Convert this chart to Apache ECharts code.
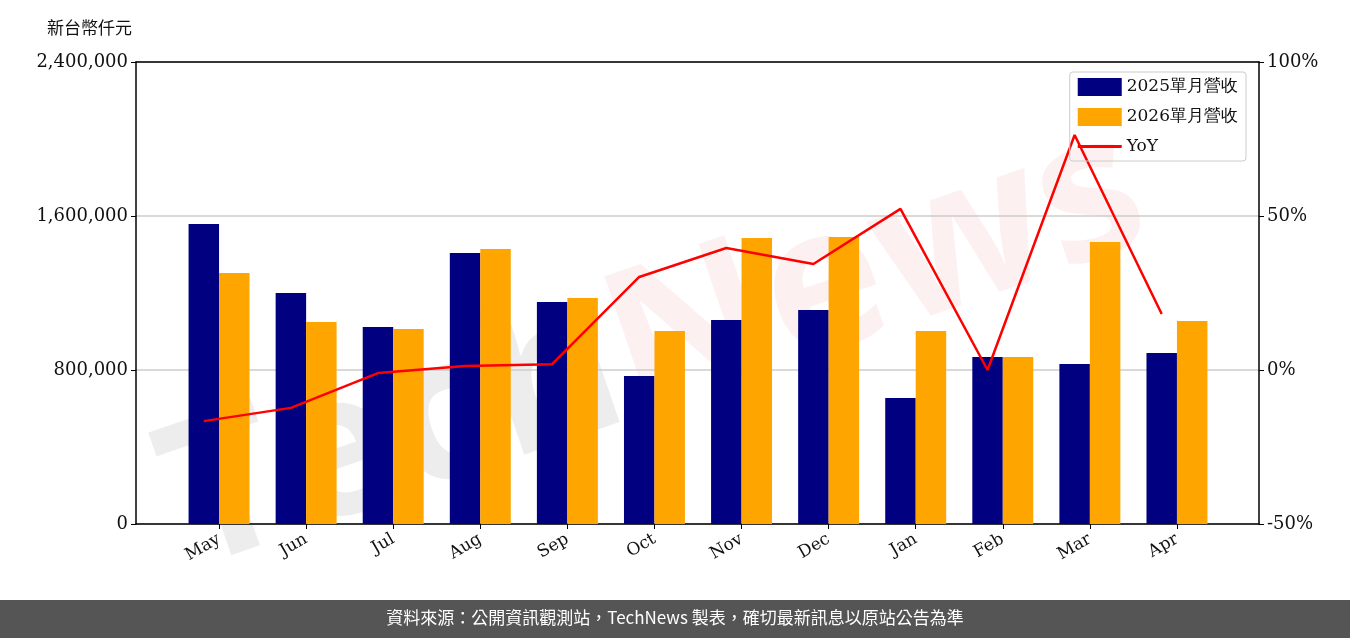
<!DOCTYPE html>
<html><head><meta charset="utf-8">
<script src="https://cdn.jsdelivr.net/npm/echarts@6/dist/echarts.min.js"></script>
<style>html,body{margin:0;padding:0;background:#fff}#c{width:1350px;height:638px}</style>
</head><body><div id="c"></div>
<script>
const months = ["May","Jun","Jul","Aug","Sep","Oct","Nov","Dec","Jan","Feb","Mar","Apr"];
const rev2025 = [1558000,1200000,1023000,1408000,1153000,769000,1060000,1112000,654000,867000,831000,888000];
const rev2026 = [1304000,1049000,1013000,1428000,1174000,1002000,1486000,1491000,1002000,867000,1465000,1054000];
const yoy = [-16.6,-12.3,-1.0,1.3,1.9,30.2,39.6,34.4,52.3,0.0,76.3,18.2];

const font = "DejaVu Serif";
const black = { color: "#000", width: 1.5 };
const chart = echarts.init(document.getElementById("c"));
chart.setOption({
  animation: false,
  textStyle: { fontFamily: font },
  grid: [
    { left: 136, right: 91, top: 62, bottom: 114, outerBoundsMode: "none" },
    { left: 175.5, right: 129.5, top: 62, bottom: 114, outerBoundsMode: "none" }
  ],
  legend: {
    orient: "vertical", right: 104, top: 72, itemGap: 12, itemWidth: 44, itemHeight: 18,
    borderColor: "#ccc", borderWidth: 1, borderRadius: 3, padding: [6, 8],
    textStyle: { fontFamily: font, fontSize: 17, color: "#111" },
    data: [
      { name: "2025單月營收", icon: "rect" },
      { name: "2026單月營收", icon: "rect" },
      { name: "YoY", icon: "path://M0,0 H44 V3 H0 Z" }
    ]
  },
  xAxis: [
    { gridIndex: 0, type: "value", min: 0, max: 1, axisLine: { show: true, onZero: false, lineStyle: black },
      axisTick: { show: false }, axisLabel: { show: false }, splitLine: { show: false } },
    { gridIndex: 0, type: "value", min: 0, max: 1, position: "top", axisLine: { show: true, onZero: false, lineStyle: black },
      axisTick: { show: false }, axisLabel: { show: false }, splitLine: { show: false } },
    { gridIndex: 1, type: "category", data: months, boundaryGap: true,
      axisLine: { show: false }, axisTick: { show: true, alignWithLabel: true, length: 5, lineStyle: { color: "#000" } },
      axisLabel: { rotate: 30, fontSize: 17, color: "#111", margin: 14 } },
    { gridIndex: 1, type: "value", min: -0.5, max: 11.5, show: false }
  ],
  yAxis: [
    { gridIndex: 0, type: "value", min: 0, max: 2400000, interval: 800000,
      name: "新台幣仟元", nameLocation: "end", nameGap: 26,
      nameTextStyle: { fontFamily: "Noto Sans CJK TC", fontSize: 17, color: "#111", align: "right", padding: [0, 4, 0, 0] },
      axisLine: { show: true, onZero: false, lineStyle: black }, axisTick: { show: true, length: 5, lineStyle: { color: "#000" } },
      axisLabel: { fontSize: 18, color: "#111", formatter: v => v.toLocaleString("en-US") },
      splitLine: { lineStyle: { color: "#ccc", width: 1.5 } } },
    { gridIndex: 0, type: "value", min: -50, max: 100, interval: 50, position: "right",
      axisLine: { show: true, onZero: false, lineStyle: black }, axisTick: { show: true, length: 5, lineStyle: { color: "#000" } },
      axisLabel: { fontSize: 18, color: "#111", formatter: "{value}%" }, splitLine: { show: false } },
    { gridIndex: 1, type: "value", min: 0, max: 2400000, show: false },
    { gridIndex: 1, type: "value", min: -50, max: 100, show: false }
  ],
  graphic: [
    { type: "text", left: 140, top: 90, rotation: 0.33, z: 0, silent: true,
      style: { text: "{a|Tech}{b|News}", font: "bold 200px 'Open Sans'",
        rich: { a: { font: "bold 200px 'Open Sans'", fill: "rgba(0,0,0,0.07)" }, b: { font: "bold 200px 'Open Sans'", fill: "rgba(220,60,60,0.08)" } } } },
    { type: "rect", left: 0, top: 600, z: 10, shape: { width: 1350, height: 38 }, style: { fill: "#555" } },
    { type: "text", left: "center", top: 609, z: 11,
      style: { text: "資料來源：公開資訊觀測站，TechNews 製表，確切最新訊息以原站公告為準", font: "17px 'Noto Sans CJK TC'", fill: "#fff" } }
  ],
  series: [
    { name: "2025單月營收", type: "bar", xAxisIndex: 2, yAxisIndex: 2, data: rev2025, barWidth: "35%", barGap: "0%", itemStyle: { color: "#000080" } },
    { name: "2026單月營收", type: "bar", xAxisIndex: 2, yAxisIndex: 2, data: rev2026, barWidth: "35%", itemStyle: { color: "#FFA500" } },
    { name: "YoY", type: "line", xAxisIndex: 3, yAxisIndex: 3, symbol: "none",
      data: yoy.map((v, i) => [i - 0.175, v]), lineStyle: { color: "#FF0000", width: 2.5 }, itemStyle: { color: "#FF0000" } }
  ]
});
</script></body></html>
